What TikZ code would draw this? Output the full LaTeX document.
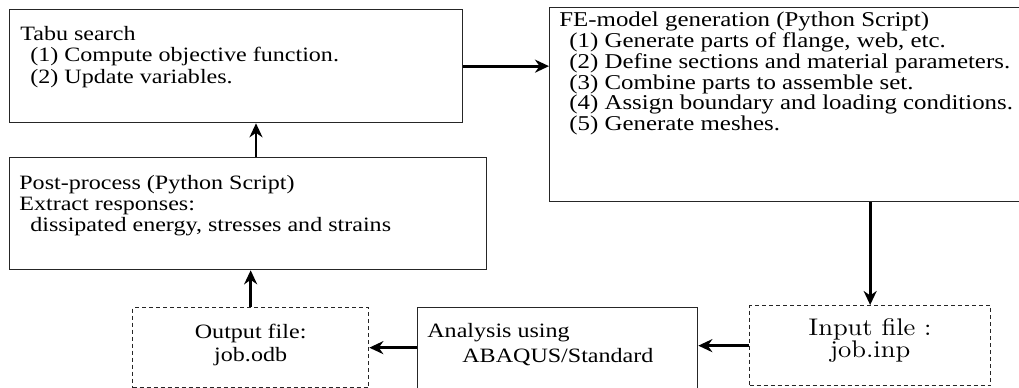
\documentclass[tikz,border=0pt]{standalone}
\usepackage{fontspec}
\setmainfont{Liberation Serif}[FakeStretch=1.18]
\newfontfamily\inpfont{lmroman10-regular.otf}[FakeStretch=1.1]
\usetikzlibrary{arrows.meta}
\setlength{\lineskiplimit}{-100pt}

\begin{document}
\begin{tikzpicture}[x=0.2mm,y=-0.2mm,
 >={Stealth[length=2.8mm,width=2.6mm,inset=0.9mm]},
 box/.style={draw=black!85,line width=0.75pt,anchor=north west,inner sep=0pt},
 file/.style={box,dash pattern=on 0.8mm off 0.6mm},
 txt/.style={inner sep=0pt,anchor=north west,align=left,
 font=\fontsize{11.6}{12.2}\selectfont},
 flow/.style={->,line width=1.7pt}]
\useasboundingbox (0,0) rectangle (1019,388);
% boxes
\node[box,minimum width=90.6mm,minimum height=22.6mm] (tabu) at (9,9) {};
\node[box,minimum width=95.4mm,minimum height=22.4mm] (post) at (9,157) {};
\node[box,minimum width=94.8mm,minimum height=38.8mm] (fe) at (549,7) {};
\node[file,minimum width=47.2mm,minimum height=16mm] (odb) at (132,307) {};
\node[box,minimum width=56mm,minimum height=17.4mm] (abaqus) at (417,307) {};
\node[file,minimum width=48.2mm,minimum height=16mm] (inp) at (749,305) {};
% texts
\node[txt] (tabutxt) at ([shift={(11,17)}]tabu.north west)
 {Tabu search\\\hspace*{2mm}(1) Compute objective function.\\
 \hspace*{2mm}(2) Update variables.};
\node[txt] (posttxt) at ([shift={(10,17.6)}]post.north west)
 {Post-process (Python Script)\\Extract responses:\\
 \hspace*{2.2mm}dissipated energy, stresses and strains};
\node[txt,font=\fontsize{12}{11.8}\selectfont]
 (fetxt) at ([shift={(10,5)}]fe.north west)
 {FE-model generation (Python Script)\\
 \hspace*{2mm}(1) Generate parts of flange, web, etc.\\
 \hspace*{2mm}(2) Define sections and material parameters.\\
 \hspace*{2mm}(3) Combine parts to assemble set.\\
 \hspace*{2mm}(4) Assign boundary and loading conditions.\\
 \hspace*{2mm}(5) Generate meshes.};
\node[txt,font=\fontsize{11.6}{14.5}\selectfont]
 (abaqustxt) at ([shift={(10,16)}]abaqus.north west)
 {Analysis using\\\hspace*{7mm}ABAQUS/Standard};
\node[txt,anchor=north,align=center,font=\fontsize{11.6}{12.8}\selectfont]
 (odbtxt) at ([shift={(0,17)}]odb.north) {Output file:\\job.odb};
\node[txt,anchor=north,align=center,
 font=\inpfont\fontsize{13.7}{12.9}\selectfont]
 (inptxt) at ([shift={(0,13)}]inp.north) {Input file :\\job.inp};
% connectors
\draw[flow] (tabu.east) -- (tabu.east -| fe.west);
\draw[flow] (fe.south -| inp.north) -- (inp.north);
\draw[flow] (inp.west) -- (inp.west -| abaqus.east);
\draw[flow] (abaqus.west |- odb.east) -- (odb.east);
\draw[flow] (odb.north) -- (odb.north |- post.south);
\draw[flow] (post.north -| 256,0) -- (tabu.south -| 256,0);
\end{tikzpicture}
\end{document}
